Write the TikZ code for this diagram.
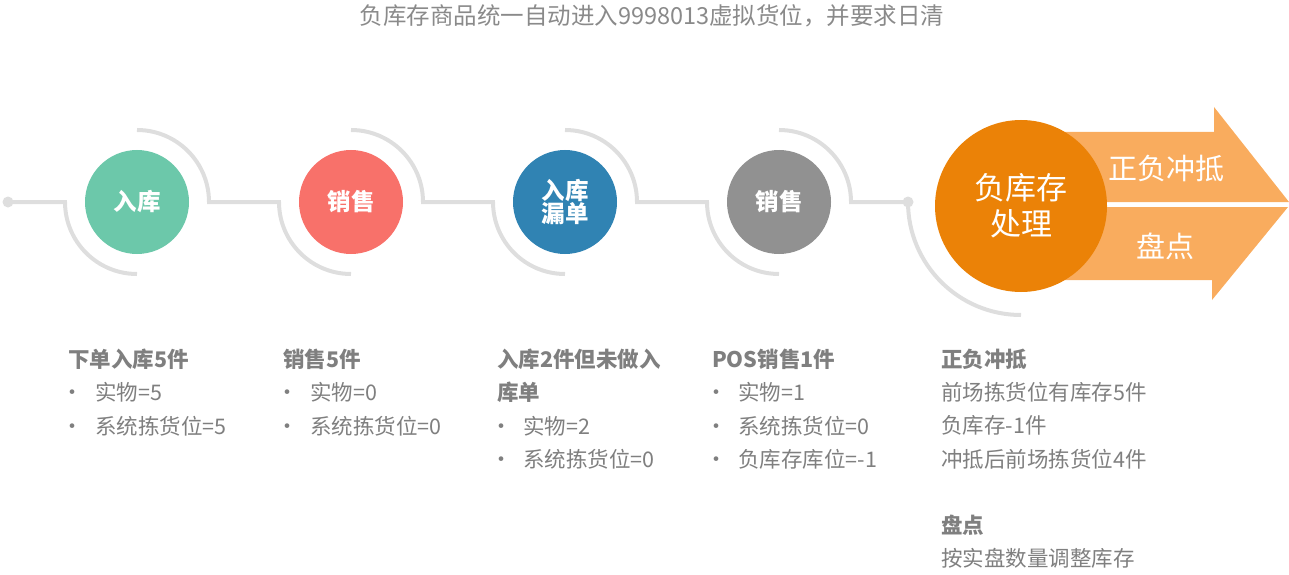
\documentclass[tikz,border=0pt]{standalone}
\usepackage{fontspec}
\setmainfont{Noto Sans CJK SC}
\definecolor{cgreen}{HTML}{6CC8AA}
\definecolor{cred}{HTML}{F8716A}
\definecolor{cblue}{HTML}{3083B3}
\definecolor{cgray}{HTML}{919191}
\definecolor{corange}{HTML}{EB8207}
\definecolor{carrow}{HTML}{F9AC5E}
\definecolor{ctrack}{HTML}{DEDEDE}
\definecolor{ctext}{HTML}{7F7F7F}
\definecolor{ctitle}{HTML}{8A8A8A}
\begin{document}
\begin{tikzpicture}[x=1pt,y=1pt,
  track/.style={draw=ctrack,line width=4pt},
  stepcirc/.style={circle,minimum size=104pt,inner sep=0pt,text=white,font=\fontsize{23.5}{28}\selectfont\bfseries,align=center},
  txt/.style={anchor=west,inner sep=0pt,text=ctext,font=\fontsize{21.5}{24}\selectfont},
  hd/.style={txt,font=\fontsize{21.5}{24}\selectfont\bfseries},
  bul/.style={anchor=base,inner sep=0pt,text=ctext,yshift=-8pt,font=\fontsize{22}{24}\selectfont}]
\useasboundingbox (0,0) rectangle (1289,574);
% title
\node[inner sep=0pt,text=ctitle,font=\fontsize{23.5}{26}\selectfont] (title) at (652,558) {负库存商品统一自动进入9998013虚拟货位，并要求日清};
% arrows
\fill[carrow] (1021,442) -- (1214,442) -- (1214,467) -- (1289,372) -- (1021,372) -- cycle;
\fill[carrow] (1021,367) -- (1288,367) -- (1212,274) -- (1212,294) -- (1021,294) -- cycle;
% step circles
\node[stepcirc,fill=cgreen] (c1) at (137,372) {入库};
\node[stepcirc,fill=cred] (c2) at (351,372) {销售};
\node[stepcirc,fill=cblue] (c3) at (565,372) {入库\\[-5pt]漏单};
\node[stepcirc,fill=cgray] (c4) at (779,372) {销售};
\coordinate (d1) at (8,372);
\coordinate (d2) at (908,372);
\fill[ctrack] (d1) circle (5.5);
\fill[ctrack] (d2) circle (5.5);
% track
\draw[track] (d1) -- ([xshift=-72pt]c1.center) arc[start angle=180,end angle=270,radius=72];
\draw[track] ([yshift=72pt]c1.center) arc[start angle=90,end angle=0,radius=72] -- ([xshift=-72pt]c2.center) arc[start angle=180,end angle=270,radius=72];
\draw[track] ([yshift=72pt]c2.center) arc[start angle=90,end angle=0,radius=72] -- ([xshift=-72pt]c3.center) arc[start angle=180,end angle=270,radius=72];
\draw[track] ([yshift=72pt]c3.center) arc[start angle=90,end angle=0,radius=72] -- ([xshift=-72pt]c4.center) arc[start angle=180,end angle=270,radius=72];
\draw[track] ([yshift=72pt]c4.center) arc[start angle=90,end angle=0,radius=72] -- (d2) arc[start angle=180,end angle=270,radius=113];
% big circle
\node[circle,fill=corange,minimum size=172pt,inner sep=0pt,text=white,align=center,font=\fontsize{31}{36}\selectfont] (c5) at (1021,368) {负库存\\处理};
\node[inner sep=0pt,text=white,font=\fontsize{29}{32}\selectfont] (a1) at (1166,406) {正负冲抵};
\node[inner sep=0pt,text=white,font=\fontsize{29}{32}\selectfont] (a2) at (1165,328) {盘点};
% column 1
\node[hd] (t1h) at (68,215) {下单入库5件};
\node[bul] (b1a) at (72,182) {•};
\node[txt] (t1a) at (95,182) {实物=5};
\node[bul] (b1b) at (72,148) {•};
\node[txt] (t1b) at (95,148) {系统拣货位=5};
% column 2
\node[hd] (t2h) at (283,215) {销售5件};
\node[bul] (b2a) at (287,182) {•};
\node[txt] (t2a) at (310,182) {实物=0};
\node[bul] (b2b) at (287,148) {•};
\node[txt] (t2b) at (310,148) {系统拣货位=0};
% column 3
\node[hd] (t3h) at (497,215) {入库2件但未做入};
\node[hd] (t3h2) at (497,182) {库单};
\node[bul] (b3a) at (501,148) {•};
\node[txt] (t3a) at (523,148) {实物=2};
\node[bul] (b3b) at (501,115) {•};
\node[txt] (t3b) at (523,115) {系统拣货位=0};
% column 4
\node[hd] (t4h) at (712,215) {POS销售1件};
\node[bul] (b4a) at (716,182) {•};
\node[txt] (t4a) at (738,182) {实物=1};
\node[bul] (b4b) at (716,148) {•};
\node[txt] (t4b) at (738,148) {系统拣货位=0};
\node[bul] (b4c) at (716,115) {•};
\node[txt] (t4c) at (738,115) {负库存库位=-1};
% column 5
\node[hd] (t5h) at (941,215) {正负冲抵};
\node[txt] (t5a) at (941,182) {前场拣货位有库存5件};
\node[txt] (t5b) at (941,149) {负库存-1件};
\node[txt] (t5c) at (941,115) {冲抵后前场拣货位4件};
\node[hd] (t5d) at (941,49) {盘点};
\node[txt] (t5e) at (941,16) {按实盘数量调整库存};
\end{tikzpicture}
\end{document}
